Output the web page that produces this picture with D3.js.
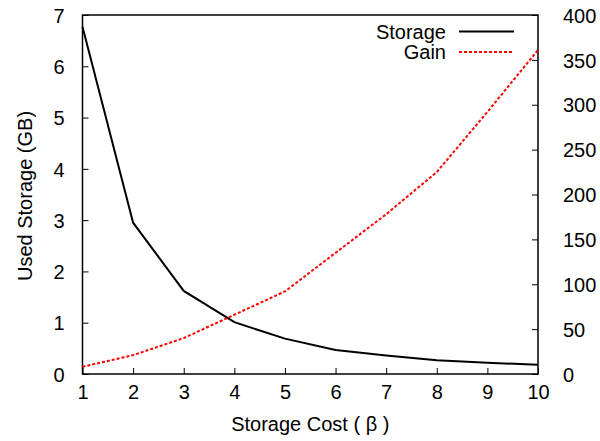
<!DOCTYPE html>
<html>
<head>
<meta charset="utf-8">
<script src="https://cdn.jsdelivr.net/npm/d3@7"></script>
<style>
  body { margin: 0; background: #fff; }
  svg text { font-family: "Liberation Sans", Arial, sans-serif; fill: #000; }
</style>
</head>
<body>
<div class="plot"></div>
<script>
// data
var costs   = [1, 2, 3, 4, 5, 6, 7, 8, 9, 10];
var storage = [6.77, 2.95, 1.62, 1.01, 0.69, 0.47, 0.36, 0.27, 0.22, 0.18];
var gain    = [8, 21, 40, 66, 92, 135, 178, 225, 292, 361];
var yTicks  = [0, 1, 2, 3, 4, 5, 6, 7];
var y2Ticks = [0, 50, 100, 150, 200, 250, 300, 350, 400];

var W = 600, H = 441;
var m = {t:15, r:62, b:67, l:82.5};
var w = W - m.l - m.r, h = H - m.t - m.b;

var svg = d3.select('.plot').append('svg')
  .attr('width', W).attr('height', H);

var g = svg.append('g').attr('transform', 'translate(' + m.l + ',' + m.t + ')');

var x  = d3.scaleLinear().domain([1, 10]).range([0, w]);
var y  = d3.scaleLinear().domain([0, 7]).range([h, 0]);
var y2 = d3.scaleLinear().domain([0, 400]).range([h, 0]);

var fs = 20;

// axes (ticks point inward)
var xAxis = g.append('g').attr('transform', 'translate(0,' + h + ')')
  .call(d3.axisBottom(x).tickValues(costs).tickFormat(d3.format('d'))
    .tickSizeInner(-6).tickSizeOuter(0).tickPadding(16));
var yAxis = g.append('g')
  .call(d3.axisLeft(y).tickValues(yTicks).tickFormat(d3.format('d'))
    .tickSizeInner(-6).tickSizeOuter(0).tickPadding(18));
var y2Axis = g.append('g').attr('transform', 'translate(' + w + ',0)')
  .call(d3.axisRight(y2).tickValues(y2Ticks).tickFormat(d3.format('d'))
    .tickSizeInner(-6).tickSizeOuter(0).tickPadding(25));

[xAxis, yAxis, y2Axis].forEach(function(a){
  a.select('.domain').remove();
  a.selectAll('line').attr('stroke', '#000').attr('stroke-width', 1);
  a.selectAll('text').attr('font-size', fs).attr('font-family', null);
});
xAxis.selectAll('text').attr('dy', '0.45em');
yAxis.selectAll('text').attr('dy', '0.36em');
y2Axis.selectAll('text').attr('dy', '0.36em');

// frame
g.append('rect').attr('width', w).attr('height', h)
  .attr('fill', 'none').attr('stroke', '#000').attr('stroke-width', 1.5);

// lines
var lineS = d3.line().x(function(d,i){ return x(costs[i]); }).y(function(d){ return y(d); });
var lineG = d3.line().x(function(d,i){ return x(costs[i]); }).y(function(d){ return y2(d); });

g.append('path').datum(storage).attr('d', lineS)
  .attr('fill', 'none').attr('stroke', '#000').attr('stroke-width', 2);
g.append('path').datum(gain).attr('d', lineG)
  .attr('fill', 'none').attr('stroke', '#ff0000').attr('stroke-width', 2)
  .attr('stroke-dasharray', '3,2');

// legend
var legend = [
  {name: 'Storage', color: '#000', dash: null, y: 16.5},
  {name: 'Gain', color: '#ff0000', dash: '3,2', y: 37}
];
var lg = g.selectAll('.legend').data(legend).enter().append('g').attr('class', 'legend');
lg.append('text').attr('x', 363.5).attr('y', function(d){ return d.y; })
  .attr('dy', '0.36em').attr('text-anchor', 'end').attr('font-size', fs)
  .text(function(d){ return d.name; });
lg.append('line').attr('x1', 376.5).attr('x2', 431.5)
  .attr('y1', function(d){ return d.y; }).attr('y2', function(d){ return d.y; })
  .attr('stroke', function(d){ return d.color; }).attr('stroke-width', 2)
  .attr('stroke-dasharray', function(d){ return d.dash; });

// axis titles
svg.append('text').attr('x', m.l + w / 2).attr('y', 431)
  .attr('text-anchor', 'middle').attr('font-size', fs)
  .text('Storage Cost ( β )');
svg.append('text').attr('transform', 'translate(32,196) rotate(-90)')
  .attr('text-anchor', 'middle').attr('font-size', fs)
  .text('Used Storage (GB)');
</script>
</body>
</html>
